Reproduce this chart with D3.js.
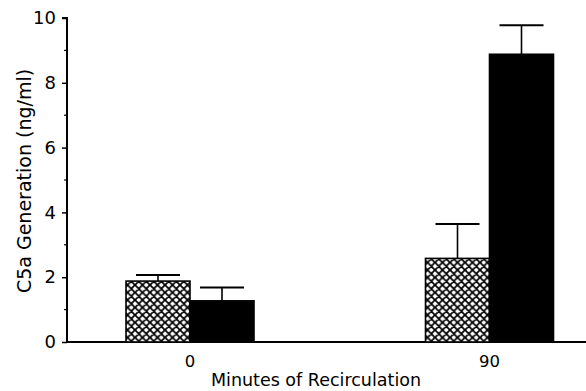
<!DOCTYPE html>
<html lang="en">
<head>
<meta charset="utf-8">
<script src="https://d3js.org/d3.v7.min.js"></script>
<style>
  body { margin: 0; background: #fff; }
  text { font-family: "DejaVu Sans", sans-serif; fill: #000; }
</style>
</head>
<body>
<script>
// data
var times = ["0", "90"];
var series = ["hatched", "solid"];
var means = [[1.88, 1.27], [2.58, 8.88]];
var errs = [[0.19, 0.41], [1.06, 0.9]];
var yTicks = [0, 2, 4, 6, 8, 10];
var yMinor = [1, 3, 5, 7, 9];

var W = 586, H = 391;
var margin = {top: 18, right: 0, bottom: 49, left: 67};

var svg = d3.select("body").append("svg").attr("width", W).attr("height", H);

var defs = svg.append("defs");
var pat = defs.append("pattern").attr("id", "xhatch").attr("patternUnits", "userSpaceOnUse")
  .attr("width", 7.5).attr("height", 7.5);
pat.append("rect").attr("width", 7.5).attr("height", 7.5).attr("fill", "#fff");
pat.append("path").attr("d", "M-1,-1 L8.5,8.5 M-1,8.5 L8.5,-1 M-4.75,2.75 L2.75,-4.75 M4.75,12.25 L12.25,4.75 M-4.75,4.75 L2.75,12.25 M4.75,-4.75 L12.25,2.75")
  .attr("stroke", "#000").attr("stroke-width", 1.8);

var y = d3.scaleLinear().domain([0, 10]).range([H - margin.bottom, margin.top]);
var x = d3.scaleOrdinal().domain(times).range([190, 489.5]);
var barW = 64;

// y axis
var yAxis = svg.append("g").attr("transform", "translate(" + margin.left + ",0)")
  .call(d3.axisLeft(y).tickValues(yTicks).tickSize(5).tickPadding(6).tickFormat(d3.format("d")));
yAxis.select(".domain").attr("stroke-width", 2).attr("d", "M-5," + y(10) + "H0V" + y(0));
yAxis.selectAll(".tick line").attr("stroke-width", 1.5);
yAxis.selectAll(".tick text").attr("font-size", 18).attr("font-family", "DejaVu Sans, sans-serif");
svg.append("g").selectAll("line").data(yMinor).enter().append("line")
  .attr("x1", margin.left - 3).attr("x2", margin.left)
  .attr("y1", function(d) { return y(d); }).attr("y2", function(d) { return y(d); })
  .attr("stroke", "#000").attr("stroke-width", 1.2);

// x axis
svg.append("line").attr("x1", margin.left - 1).attr("x2", W).attr("y1", y(0)).attr("y2", y(0))
  .attr("stroke", "#000").attr("stroke-width", 2);
svg.append("g").selectAll("text").data(times).enter().append("text")
  .attr("x", function(d) { return x(d); }).attr("y", y(0) + 25)
  .attr("text-anchor", "middle").attr("font-size", 16.5).text(function(d) { return d; });

// bars
var groups = svg.append("g").selectAll("g").data(times).enter().append("g");
groups.each(function(t, i) {
  var g = d3.select(this);
  series.forEach(function(s, j) {
    var left = x(t) - barW + j * barW;
    var v = means[i][j], e = errs[i][j];
    var cx = left + barW / 2;
    g.append("line").attr("x1", cx).attr("x2", cx).attr("y1", y(v)).attr("y2", y(v + e))
      .attr("stroke", "#000").attr("stroke-width", 1.6);
    g.append("line").attr("x1", cx - 22).attr("x2", cx + 22).attr("y1", y(v + e)).attr("y2", y(v + e))
      .attr("stroke", "#000").attr("stroke-width", 2);
    g.append("rect").attr("x", left).attr("y", y(v)).attr("width", barW).attr("height", y(0) - y(v))
      .attr("fill", j === 0 ? "url(#xhatch)" : "#000").attr("stroke", "#000").attr("stroke-width", 1.6);
  });
});

// axis titles
svg.append("text").attr("x", 316).attr("y", 386).attr("text-anchor", "middle")
  .attr("font-size", 17.5).text("Minutes of Recirculation");
svg.append("text").attr("transform", "translate(31," + 181 + ") rotate(-90)")
  .attr("text-anchor", "middle").attr("font-size", 19).text("C5a Generation (ng/ml)");
</script>
</body>
</html>
